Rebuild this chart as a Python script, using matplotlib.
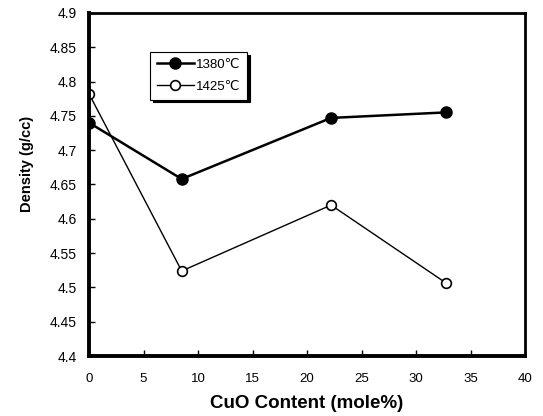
#!/usr/bin/env python3
"""
Density vs CuO content for two sintering temperatures
"""

import matplotlib
matplotlib.use('Agg')
import matplotlib.pyplot as plt

cuo_content = [0, 8.5, 22.2, 32.7]
density_1380 = [4.74, 4.658, 4.747, 4.755]
density_1425 = [4.782, 4.524, 4.62, 4.507]
series_labels = ['1380\u2103', '1425\u2103']

x_ticks = [0, 5, 10, 15, 20, 25, 30, 35, 40]
y_ticks = [4.4, 4.45, 4.5, 4.55, 4.6, 4.65, 4.7, 4.75, 4.8, 4.85, 4.9]
y_tick_labels = ['4.4', '4.45', '4.5', '4.55', '4.6', '4.65', '4.7', '4.75', '4.8', '4.85', '4.9']

plt.rcParams['font.family'] = ['Liberation Sans', 'DejaVu Sans']

fig = plt.figure(figsize=(5.43, 4.16), dpi=100)
ax = fig.add_axes([0.164, 0.144, 0.803, 0.825])

ax.plot(cuo_content, density_1380, color='black', linewidth=1.8, marker='o',
        markersize=8, markerfacecolor='black', label=series_labels[0])
ax.plot(cuo_content, density_1425, color='black', linewidth=1, marker='o',
        markersize=7, markerfacecolor='white', markeredgewidth=1.2,
        label=series_labels[1])

ax.set_xlim(0, 40)
ax.set_ylim(4.4, 4.9)
ax.set_xticks(x_ticks)
ax.set_yticks(y_ticks)
ax.set_yticklabels(y_tick_labels)
ax.tick_params(direction='in', length=4, width=1)
ax.tick_params(axis='x', labelsize=9.5, pad=12)
ax.tick_params(axis='y', labelsize=10, pad=9)

for side, lw in [('left', 2.8), ('bottom', 2.8), ('right', 2), ('top', 2)]:
    ax.spines[side].set_linewidth(lw)

ax.set_xlabel('CuO Content (mole%)', fontsize=13.5, fontweight='bold')
ax.xaxis.set_label_coords(0.498, -0.112)
ax.set_ylabel('Density (g/cc)', fontsize=10.5, fontweight='bold')
ax.yaxis.set_label_coords(-0.126, 0.56)

leg = ax.legend(loc='upper left', bbox_to_anchor=(0.125, 0.905), fontsize=9.5,
                fancybox=False, shadow={'color': 'black', 'alpha': 1},
                edgecolor='black', framealpha=1, handlelength=2.8,
                borderpad=0.5, labelspacing=0.75, handletextpad=0.2)
leg.get_frame().set_linewidth(0.8)

fig.savefig('out.png', dpi=100)
plt.close(fig)
